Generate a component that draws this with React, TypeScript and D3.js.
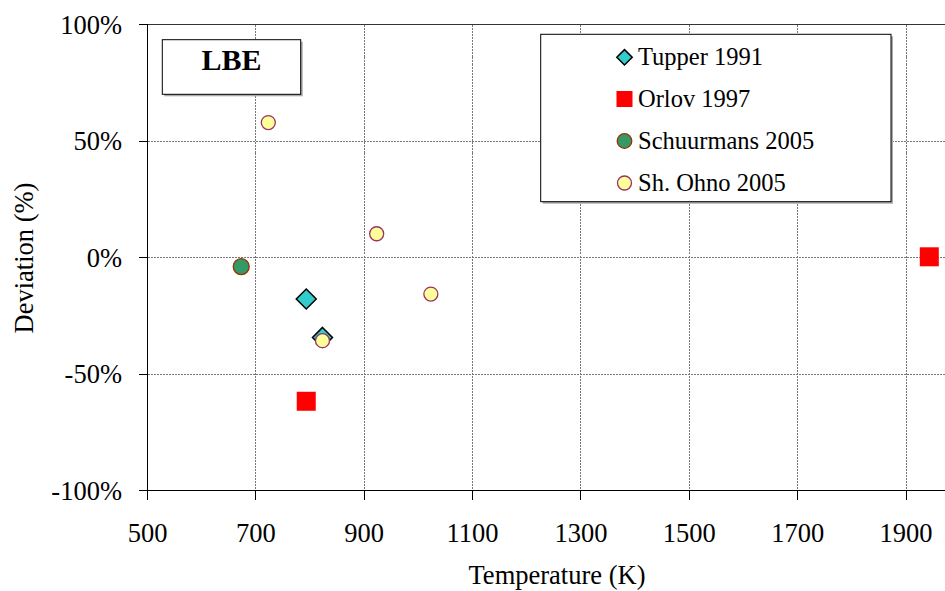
import React from "react";
import * as d3 from "d3";

// Deviation of each data set from the reference correlation, LBE
const tupperT = [793, 823];
const tupperDev = [-17.8, -34.3];
const orlovT = [793, 1943];
const orlovDev = [-61.7, 0.3];
const schuurmansT = [673];
const schuurmansDev = [-3.9];
const ohnoT = [723, 923, 1023, 823];
const ohnoDev = [57.9, 10.2, -15.7, -35.7];

const xTicks = [500, 700, 900, 1100, 1300, 1500, 1700, 1900];
const yTicks = [100, 50, 0, -50, -100];
const legendLabels = ["Tupper 1991", "Orlov 1997", "Schuurmans 2005", "Sh. Ohno 2005"];

const W = 945;
const H = 591;
const FONT = "'Liberation Serif', 'Times New Roman', serif";

const x = d3.scaleLinear().domain([500, 1900]).range([147.5, 906]);
const y = d3.scaleLinear().domain([-100, 100]).range([490.5, 24.5]);

const TEAL = "#33CCCC";
const RED = "#FF0000";
const GREEN = "#339966";
const GREEN_EDGE = "#993300";
const YELLOW = "#FFFF99";
const YELLOW_EDGE = "#993366";

function diamondPath(cx: number, cy: number, s: number) {
  const p = d3.path();
  p.moveTo(cx, cy - s);
  p.lineTo(cx + s, cy);
  p.lineTo(cx, cy + s);
  p.lineTo(cx - s, cy);
  p.closePath();
  return p.toString();
}

function pairs(xs: number[], ys: number[]) {
  return xs.map((v, i) => [v, ys[i]] as [number, number]);
}

export default function App() {
  const plotRight = W + 20;
  const fmtPct = (v: number) => `${v}%`;

  const legendX = 624.5;
  const legendRows = [57.3, 99, 141, 183];

  return (
    <div style={{ position: "absolute", left: 0, top: 0 }}>
      <svg width={W} height={H} style={{ display: "block", background: "#fff" }} fontFamily={FONT}>
        {/* gridlines */}
        <g stroke="#777" strokeWidth={1} strokeDasharray="2 1" shapeRendering="crispEdges">
          {xTicks.slice(1).map((t) => (
            <line key={"gx" + t} x1={x(t)} x2={x(t)} y1={y(100)} y2={y(-100)} />
          ))}
          {yTicks.slice(1, -1).map((t) => (
            <line key={"gy" + t} x1={x(500)} x2={plotRight} y1={y(t)} y2={y(t)} />
          ))}
        </g>
        {/* plot-area top edge */}
        <line x1={x(500)} x2={plotRight} y1={y(100)} y2={y(100)} stroke="#333" strokeWidth={1} shapeRendering="crispEdges" />

        {/* axes */}
        <g stroke="#000" strokeWidth={1} shapeRendering="crispEdges">
          <line x1={x(500)} x2={x(500)} y1={y(100)} y2={y(-100)} />
          <line x1={x(500)} x2={plotRight} y1={y(-100)} y2={y(-100)} />
          {yTicks.map((t) => (
            <line key={"ty" + t} x1={x(500) - 9} x2={x(500)} y1={y(t)} y2={y(t)} />
          ))}
          {xTicks.map((t) => (
            <line key={"tx" + t} x1={x(t)} x2={x(t)} y1={y(-100)} y2={y(-100) + 9} />
          ))}
        </g>

        {/* tick labels */}
        <g fontSize={26.5} fill="#000">
          {yTicks.map((t) => (
            <text key={"ly" + t} x={122} y={y(t) + 9.3} textAnchor="end">
              {fmtPct(t)}
            </text>
          ))}
          {xTicks.map((t) => (
            <text key={"lx" + t} x={x(t)} y={542} textAnchor="middle">
              {t}
            </text>
          ))}
        </g>

        {/* axis titles */}
        <text x={557} y={584} textAnchor="middle" fontSize={26.5}>
          Temperature (K)
        </text>
        <text transform="translate(33,258) rotate(-90)" textAnchor="middle" fontSize={26.5}>
          Deviation (%)
        </text>

        {/* data series */}
        <g>
          {pairs(tupperT, tupperDev).map(([t, d], i) => (
            <path key={"tu" + i} d={diamondPath(x(t), y(d), 10)} fill={TEAL} stroke="#000" strokeWidth={1.5} />
          ))}
          {pairs(orlovT, orlovDev).map(([t, d], i) => (
            <rect key={"or" + i} x={x(t) - 9.5} y={y(d) - 9.5} width={19} height={19} fill={RED} />
          ))}
          {pairs(schuurmansT, schuurmansDev).map(([t, d], i) => (
            <circle key={"sc" + i} cx={x(t)} cy={y(d)} r={8} fill={GREEN} stroke={GREEN_EDGE} strokeWidth={1.3} />
          ))}
          {pairs(ohnoT, ohnoDev).map(([t, d], i) => (
            <circle key={"oh" + i} cx={x(t)} cy={y(d)} r={7} fill={YELLOW} stroke={YELLOW_EDGE} strokeWidth={1.3} />
          ))}
        </g>

        {/* LBE label box */}
        <rect x={164.3} y={41.7} width={138.4} height={54.6} fill="#aaa" />
        <rect x={162.3} y={39.7} width={138.4} height={54.6} fill="#fff" stroke="#000" strokeWidth={1} />
        <text x={231.5} y={69.5} textAnchor="middle" fontSize={30} fontWeight="bold">
          LBE
        </text>

        {/* legend */}
        <rect x={542.7} y={36.3} width={350.3} height={167.4} fill="#aaa" />
        <rect x={540.7} y={34.3} width={350.3} height={167.4} fill="#fff" stroke="#000" strokeWidth={1} />
        <path d={diamondPath(legendX, legendRows[0], 7.7)} fill={TEAL} stroke="#000" strokeWidth={1.5} />
        <rect x={legendX - 8} y={legendRows[1] - 8} width={16} height={16} fill={RED} />
        <circle cx={legendX} cy={legendRows[2]} r={7.3} fill={GREEN} stroke={GREEN_EDGE} strokeWidth={1.3} />
        <circle cx={legendX} cy={legendRows[3]} r={7} fill={YELLOW} stroke={YELLOW_EDGE} strokeWidth={1.3} />
        <g fontSize={24.5}>
          {legendLabels.map((l, i) => (
            <text key={l} x={638} y={legendRows[i] + 7.8}>
              {l}
            </text>
          ))}
        </g>
      </svg>
    </div>
  );
}
